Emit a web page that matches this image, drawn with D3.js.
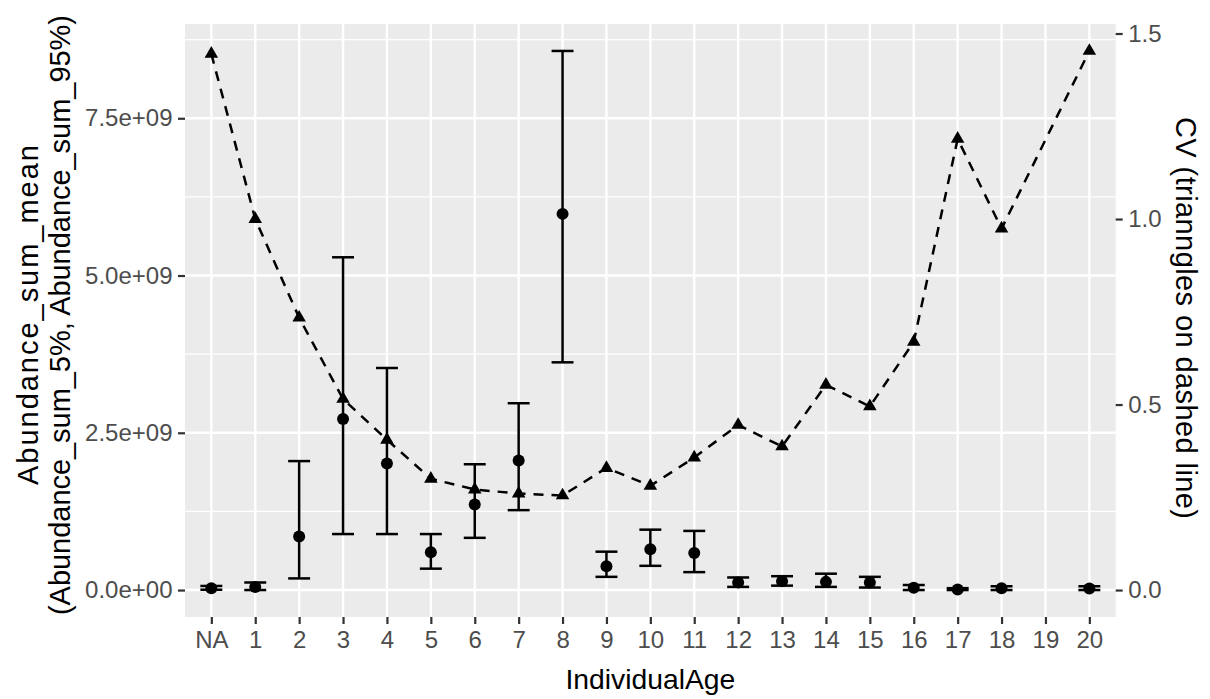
<!DOCTYPE html>
<html>
<head>
<meta charset="utf-8">
<script src="https://cdn.jsdelivr.net/npm/d3@7"></script>
<style>
    body { margin: 0; background: #ffffff; }
    text { font-family: "Liberation Sans", Arial, sans-serif; }
</style>
</head>
<body>
<div id="chart_location"></div>
<script>
// categories on the x axis (19 has no data)
var ages = ["NA", "1", "2", "3", "4", "5", "6", "7", "8", "9", "10", "11", "12", "13", "14", "15", "16", "17", "18", "19", "20"];

// Abundance_sum mean, 5% and 95% values (null = no data)
var meanVals = [0.03e9, 0.05e9, 0.85e9, 2.72e9, 2.01e9, 0.60e9, 1.36e9, 2.06e9, 5.98e9, 0.38e9, 0.65e9, 0.59e9, 0.12e9, 0.14e9, 0.13e9, 0.12e9, 0.035e9, 0.01e9, 0.03e9, null, 0.025e9];
var lowVals = [0.005e9, 0.0, 0.185e9, 0.89e9, 0.89e9, 0.34e9, 0.83e9, 1.27e9, 3.62e9, 0.21e9, 0.385e9, 0.285e9, 0.05e9, 0.07e9, 0.05e9, 0.04e9, 0.0, 0.0, 0.0, null, 0.0];
var highVals = [0.065e9, 0.12e9, 2.05e9, 5.29e9, 3.53e9, 0.89e9, 2.00e9, 2.97e9, 8.57e9, 0.61e9, 0.96e9, 0.94e9, 0.20e9, 0.22e9, 0.26e9, 0.21e9, 0.08e9, 0.03e9, 0.06e9, null, 0.06e9];

// coefficient of variation (triangles on dashed line)
var cvVals = [1.445, 1.00, 0.734, 0.515, 0.405, 0.30, 0.271, 0.26, 0.255, 0.329, 0.281, 0.357, 0.445, 0.387, 0.553, 0.495, 0.669, 1.216, 0.974, null, 1.453];

// tick values and labels
var yTickVals = [0, 2.5e9, 5e9, 7.5e9];
var yTickLabels = ["0.0e+00", "2.5e+09", "5.0e+09", "7.5e+09"];
var yMinorVals = [1.25e9, 3.75e9, 6.25e9, 8.75e9];
var cvTickVals = [0, 0.5, 1.0, 1.5];
var cvTickLabels = ["0.0", "0.5", "1.0", "1.5"];

var w = 1210;
var h = 699;
var panel = {left: 185, right: 1115.7, top: 24, bottom: 617};
var tickFont = "24px";
var titleFont = "28.3px";

// rows that have data
var rows = [];
ages.forEach(function(a, i) {
    if (meanVals[i] !== null) {
        rows.push({age: a, mean: meanVals[i], lo: lowVals[i], hi: highVals[i], cv: cvVals[i]});
    }
});

var svg = d3.select("#chart_location")
    .append("svg")
    .attr("width", w)
    .attr("height", h);

// x is a discrete scale with ggplot style padding
var x = d3.scalePoint()
    .domain(ages)
    .range([panel.left, panel.right])
    .padding(0.6);

var yMin = d3.min(lowVals);
var yMax = d3.max(highVals);
var pad = (yMax - yMin) * 0.05;
var y = d3.scaleLinear()
    .domain([yMin - pad, yMax + pad])
    .range([panel.bottom, panel.top]);

// secondary axis: cv is scaled so its max matches the max of the 95% values
var cvFactor = yMax / d3.max(cvVals);
var yCv = d3.scaleLinear()
    .domain([y.domain()[0] / cvFactor, y.domain()[1] / cvFactor])
    .range([panel.bottom, panel.top]);

// grey panel
svg.append("rect")
    .attr("x", panel.left)
    .attr("y", panel.top)
    .attr("width", panel.right - panel.left)
    .attr("height", panel.bottom - panel.top)
    .attr("fill", "#EBEBEB");

// minor gridlines
svg.selectAll(".minor")
    .data(yMinorVals)
    .enter()
    .append("line")
    .attr("x1", panel.left)
    .attr("x2", panel.right)
    .attr("y1", function(d) { return y(d); })
    .attr("y2", function(d) { return y(d); })
    .attr("stroke", "#ffffff")
    .attr("stroke-width", 1.2);

// major gridlines
svg.selectAll(".majorY")
    .data(yTickVals)
    .enter()
    .append("line")
    .attr("x1", panel.left)
    .attr("x2", panel.right)
    .attr("y1", function(d) { return y(d); })
    .attr("y2", function(d) { return y(d); })
    .attr("stroke", "#ffffff")
    .attr("stroke-width", 2.4);

svg.selectAll(".majorX")
    .data(ages)
    .enter()
    .append("line")
    .attr("x1", function(d) { return x(d); })
    .attr("x2", function(d) { return x(d); })
    .attr("y1", panel.top)
    .attr("y2", panel.bottom)
    .attr("stroke", "#ffffff")
    .attr("stroke-width", 2.4);

// error bars
var capHalf = x.step() * 0.25;
var bars = svg.selectAll("g.bar")
    .data(rows)
    .enter()
    .append("g")
    .attr("class", "bar");

bars.append("line")
    .attr("x1", function(d) { return x(d.age); })
    .attr("x2", function(d) { return x(d.age); })
    .attr("y1", function(d) { return y(d.lo); })
    .attr("y2", function(d) { return y(d.hi); })
    .attr("stroke", "#000")
    .attr("stroke-width", 2.5);

bars.append("line")
    .attr("x1", function(d) { return x(d.age) - capHalf; })
    .attr("x2", function(d) { return x(d.age) + capHalf; })
    .attr("y1", function(d) { return y(d.lo); })
    .attr("y2", function(d) { return y(d.lo); })
    .attr("stroke", "#000")
    .attr("stroke-width", 2.5);

bars.append("line")
    .attr("x1", function(d) { return x(d.age) - capHalf; })
    .attr("x2", function(d) { return x(d.age) + capHalf; })
    .attr("y1", function(d) { return y(d.hi); })
    .attr("y2", function(d) { return y(d.hi); })
    .attr("stroke", "#000")
    .attr("stroke-width", 2.5);

bars.append("circle")
    .attr("cx", function(d) { return x(d.age); })
    .attr("cy", function(d) { return y(d.mean); })
    .attr("r", 6)
    .attr("fill", "#000");

// dashed cv line
var line = d3.line()
    .x(function(d) { return x(d.age); })
    .y(function(d) { return yCv(d.cv); });

svg.append("path")
    .datum(rows)
    .attr("d", line)
    .attr("fill", "none")
    .attr("stroke", "#000")
    .attr("stroke-width", 2.5)
    .attr("stroke-dasharray", "10,8");

// triangles, centred on their centroid like R pch 17
var r = 7.8;
svg.selectAll(".tri")
    .data(rows)
    .enter()
    .append("path")
    .attr("d", function(d) {
        var cx = x(d.age), cy = yCv(d.cv);
        var hx = r * 0.866;
        return "M" + cx + "," + (cy - r) + "L" + (cx + hx) + "," + (cy + r / 2) + "L" + (cx - hx) + "," + (cy + r / 2) + "Z";
    })
    .attr("fill", "#000");

// axes
function styleAxis(g) {
    g.select(".domain").remove();
    g.selectAll(".tick line").attr("stroke", "#333333").attr("stroke-width", 2.2);
    g.selectAll(".tick text").attr("fill", "#4D4D4D").style("font-size", tickFont)
        .style("font-family", "'Liberation Sans', Arial, sans-serif");
}

svg.append("g")
    .attr("transform", "translate(" + panel.left + ",0)")
    .call(d3.axisLeft(y).tickValues(yTickVals)
        .tickFormat(function(d, i) { return yTickLabels[i]; })
        .tickSize(7).tickPadding(5.5))
    .call(styleAxis);

svg.append("g")
    .attr("transform", "translate(" + panel.right + ",0)")
    .call(d3.axisRight(yCv).tickValues(cvTickVals)
        .tickFormat(function(d, i) { return cvTickLabels[i]; })
        .tickSize(7).tickPadding(5.5))
    .call(styleAxis);

svg.append("g")
    .attr("transform", "translate(0," + panel.bottom + ")")
    .call(d3.axisBottom(x).tickSize(7).tickPadding(7))
    .call(styleAxis);

// axis titles
svg.append("text")
    .attr("x", (panel.left + panel.right) / 2)
    .attr("y", 689)
    .attr("text-anchor", "middle")
    .style("font-size", titleFont)
    .text("IndividualAge");

// rotated titles come out a bit wider in the reference, so stretch them
var yTitle = svg.append("text")
    .attr("transform", "translate(0,315) rotate(-90)")
    .attr("text-anchor", "middle")
    .style("font-size", "29px");
yTitle.append("tspan").attr("x", 0).attr("y", 38)
    .attr("textLength", 340).attr("lengthAdjust", "spacing")
    .text("Abundance_sum_mean");
yTitle.append("tspan").attr("x", 0).attr("y", 70)
    .attr("textLength", 600).attr("lengthAdjust", "spacing")
    .text("(Abundance_sum_5%, Abundance_sum_95%)");

svg.append("text")
    .attr("transform", "translate(1176,318) rotate(90)")
    .attr("text-anchor", "middle")
    .attr("textLength", 402)
    .attr("lengthAdjust", "spacing")
    .style("font-size", "29px")
    .text("CV (trianngles on dashed line)");
</script>
</body>
</html>
